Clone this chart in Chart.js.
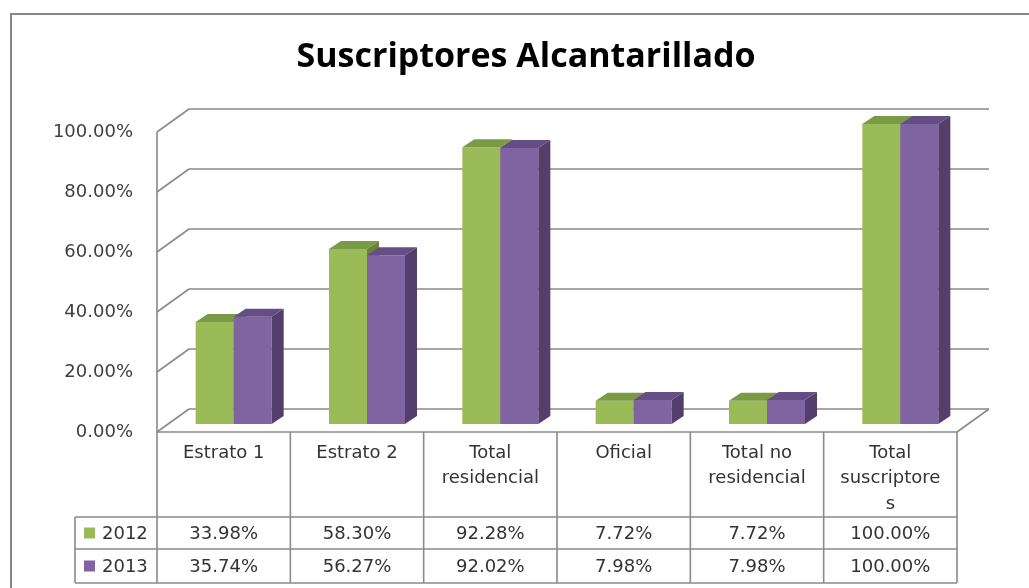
<!DOCTYPE html>
<html>
<head>
<meta charset="utf-8">
<script src="https://cdn.jsdelivr.net/npm/chart.js@4/dist/chart.umd.min.js"></script>
<style>
  html, body { margin: 0; padding: 0; background: #fff; }
  #wrap { width: 1029px; height: 588px; }
</style>
</head>
<body>
<div id="wrap"><canvas id="c" width="1029" height="588"></canvas></div>
<script>
// data
const categories = [["Estrato 1"], ["Estrato 2"], ["Total", "residencial"], ["Oficial"], ["Total no", "residencial"], ["Total", "suscriptore", "s"]];
const years = ["2012", "2013"];
const values2012 = [33.98, 58.30, 92.28, 7.72, 7.72, 100.00];
const values2013 = [35.74, 56.27, 92.02, 7.98, 7.98, 100.00];
const yTicks = [0, 20, 40, 60, 80, 100];
const titleText = "Suscriptores Alcantarillado";

const FONT = "DejaVu Sans";
const GRID = "#8a8a8a";
const TXT = "#333333";
// oblique depth of the plot box and of each bar
const WALL = { dx: 32, dy: -23 };
const BAR = { dx: 12, dy: -8, shiftX: 10, shiftY: -8 };
const faces = [
  { front: "#9BBB59", top: "#7A9A45", side: "#6A8539" },
  { front: "#8064A2", top: "#654E86", side: "#533F6B" },
];

function line(ctx, x1, y1, x2, y2) {
  ctx.beginPath(); ctx.moveTo(x1, y1); ctx.lineTo(x2, y2); ctx.stroke();
}
function poly(ctx, pts, fill) {
  ctx.beginPath(); ctx.moveTo(pts[0][0], pts[0][1]);
  for (let k = 1; k < pts.length; k++) ctx.lineTo(pts[k][0], pts[k][1]);
  ctx.closePath(); ctx.fillStyle = fill; ctx.fill();
}

const threeD = {
  id: "threeD",
  beforeDatasetsDraw(chart) {
    const { ctx, chartArea: a, scales: { y } } = chart;
    ctx.save();
    ctx.strokeStyle = GRID; ctx.lineWidth = 1.6;
    // back wall grid + left wall diagonals
    yTicks.forEach((v) => {
      const yp = y.getPixelForValue(v);
      line(ctx, a.left, yp, a.left + WALL.dx, yp + WALL.dy);
      line(ctx, a.left + WALL.dx, yp + WALL.dy, a.right + WALL.dx, yp + WALL.dy);
    });
    // front axis line and floor right edge
    line(ctx, a.left, y.getPixelForValue(100), a.left, a.bottom);
    line(ctx, a.right, a.bottom, a.right + WALL.dx, a.bottom + WALL.dy);
    ctx.restore();
  },
  afterDatasetsDraw(chart) {
    const { ctx } = chart;
    const metas = chart.data.datasets.map((_, d) => chart.getDatasetMeta(d));
    ctx.save();
    for (let i = 0; i < chart.data.labels.length; i++) {
      metas.forEach((meta, d) => {
        const el = meta.data[i];
        const l = el.x - el.width / 2 + BAR.shiftX, r = el.x + el.width / 2 + BAR.shiftX;
        const t = el.y + BAR.shiftY, b = el.base + BAR.shiftY;
        const f = faces[d];
        poly(ctx, [[l, t], [r, t], [r, b], [l, b]], f.front);
        poly(ctx, [[l, t], [l + BAR.dx, t + BAR.dy], [r + BAR.dx, t + BAR.dy], [r, t]], f.top);
        poly(ctx, [[r, t], [r + BAR.dx, t + BAR.dy], [r + BAR.dx, b + BAR.dy], [r, b]], f.side);
      });
    }
    ctx.restore();
  },
  afterDraw(chart) {
    const { ctx, chartArea: a, scales: { x } } = chart;
    const half = (x.getPixelForValue(1) - x.getPixelForValue(0)) / 2;
    const rows = [a.bottom, 517, 549, 583];
    const legLeft = 75;
    ctx.save();
    // title
    ctx.fillStyle = "#000";
    ctx.font = "bold 34px 'Open Sans'";
    ctx.textAlign = "center"; ctx.textBaseline = "middle";
    ctx.fillText(titleText, 526, 57);

    ctx.strokeStyle = GRID; ctx.lineWidth = 1.6;
    // horizontal rules
    line(ctx, a.left, rows[0], a.right, rows[0]);
    for (let k = 1; k < rows.length; k++) line(ctx, legLeft, rows[k], a.right, rows[k]);
    // vertical rules
    line(ctx, legLeft, rows[1], legLeft, rows[3]);
    for (let i = 0; i <= categories.length; i++) {
      const xp = i < categories.length ? x.getPixelForValue(i) - half : x.getPixelForValue(i - 1) + half;
      line(ctx, xp, rows[0], xp, rows[3]);
    }
    ctx.fillStyle = TXT;
    ctx.font = "18px '" + FONT + "'";
    categories.forEach((lines, i) => {
      const cx = x.getPixelForValue(i);
      lines.forEach((s, j) => ctx.fillText(s, cx, rows[0] + 21 + j * 25.5));
      ctx.fillText(values2012[i].toFixed(2) + "%", cx, (rows[1] + rows[2]) / 2 + 1);
      ctx.fillText(values2013[i].toFixed(2) + "%", cx, (rows[2] + rows[3]) / 2 + 1);
    });
    // legend keys inside the table
    ctx.textAlign = "left";
    years.forEach((yr, k) => {
      const cy = (rows[k + 1] + rows[k + 2]) / 2;
      ctx.fillStyle = faces[k].front;
      ctx.fillRect(84, cy - 5.5, 11, 11);
      ctx.fillStyle = TXT;
      ctx.fillText(yr, 102, cy + 1);
    });
    // outer chart border
    ctx.strokeStyle = "#868686"; ctx.lineWidth = 2;
    ctx.strokeRect(11, 14, 1100, 700);
    ctx.restore();
  },
};

new Chart(document.getElementById("c"), {
  type: "bar",
  data: {
    labels: categories.map((c) => c.join(" ")),
    datasets: [
      { label: years[0], data: values2012, backgroundColor: "rgba(0,0,0,0)", categoryPercentage: 0.57, barPercentage: 1 },
      { label: years[1], data: values2013, backgroundColor: "rgba(0,0,0,0)", categoryPercentage: 0.57, barPercentage: 1 },
    ],
  },
  options: {
    responsive: false, animation: false, devicePixelRatio: 1,
    layout: { padding: { left: 0, right: 72, top: 132, bottom: 156 } },
    plugins: { legend: { display: false }, tooltip: { enabled: false }, title: { display: false } },
    scales: {
      x: { display: false },
      y: {
        min: 0, max: 100,
        afterFit: (s) => { s.width = 157; },
        afterBuildTicks: (s) => { s.ticks = yTicks.map((v) => ({ value: v })); },
        ticks: { padding: 24, color: "#404040", font: { family: FONT, size: 18 }, callback: (v) => v.toFixed(2) + "%" },
        grid: { display: false, drawTicks: false },
        border: { display: false },
      },
    },
  },
  plugins: [threeD],
});
</script>
</body>
</html>
